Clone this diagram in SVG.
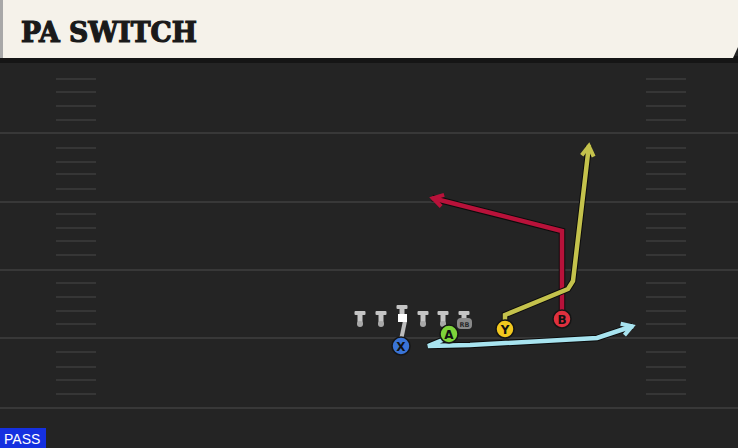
<svg xmlns="http://www.w3.org/2000/svg" width="738" height="448" viewBox="0 0 738 448">
<style>
.fl{stroke:#383838;stroke-width:2}
.hs{stroke:#363636;stroke-width:2}
.rt{fill:none;stroke-width:4.5;stroke-linejoin:miter;stroke-linecap:butt}
.ol{fill:none;stroke:#0c0c0c;stroke-width:6.5;stroke-linejoin:miter}
.pc{stroke:#151515;stroke-width:1.5}
.pl{font-family:"DejaVu Sans","Liberation Sans",sans-serif;font-weight:bold;font-size:12px;text-anchor:middle;fill:#111}
.ln{fill:#c4c4c4}
</style>
<defs>
<g id="tee">
<rect x="-5.5" y="0" width="11" height="4" rx="1" class="ln"/>
<rect x="-2.5" y="3" width="5" height="10" class="ln"/>
<circle cx="0" cy="13" r="3" fill="#a8a8a8"/>
</g>
<marker id="ar" markerUnits="userSpaceOnUse" markerWidth="20" markerHeight="20" refX="2" refY="0" viewBox="-14 -10 20 20" orient="auto" overflow="visible">
<path d="M-9,-6 L1,0 L-9,6" fill="none" stroke="#b8123a" stroke-width="4" stroke-linejoin="miter"/>
</marker>
<marker id="ay" markerUnits="userSpaceOnUse" markerWidth="20" markerHeight="20" refX="2" refY="0" viewBox="-14 -10 20 20" orient="auto" overflow="visible">
<path d="M-9,-6 L1,0 L-9,6" fill="none" stroke="#c4c24c" stroke-width="4" stroke-linejoin="miter"/>
</marker>
<marker id="ac" markerUnits="userSpaceOnUse" markerWidth="20" markerHeight="20" refX="2" refY="0" viewBox="-14 -10 20 20" orient="auto" overflow="visible">
<path d="M-9,-6 L1,0 L-9,6" fill="none" stroke="#a8e4f0" stroke-width="4" stroke-linejoin="miter"/>
</marker>
</defs>
<rect x="0" y="0" width="738" height="448" fill="#242424"/>
<g id="field">
<line class="fl" x1="0" y1="133" x2="738" y2="133"/>
<line class="fl" x1="0" y1="202" x2="738" y2="202"/>
<line class="fl" x1="0" y1="270" x2="738" y2="270"/>
<line class="fl" x1="0" y1="338" x2="738" y2="338"/>
<line class="fl" x1="0" y1="408" x2="738" y2="408"/>
<g id="hashL">
<line class="hs" x1="56" y1="79" x2="96" y2="79"/><line class="hs" x1="56" y1="92" x2="96" y2="92"/><line class="hs" x1="56" y1="106" x2="96" y2="106"/><line class="hs" x1="56" y1="120" x2="96" y2="120"/>
<line class="hs" x1="56" y1="148" x2="96" y2="148"/><line class="hs" x1="56" y1="162" x2="96" y2="162"/><line class="hs" x1="56" y1="174" x2="96" y2="174"/><line class="hs" x1="56" y1="189" x2="96" y2="189"/>
<line class="hs" x1="56" y1="214" x2="96" y2="214"/><line class="hs" x1="56" y1="228" x2="96" y2="228"/><line class="hs" x1="56" y1="241" x2="96" y2="241"/><line class="hs" x1="56" y1="255" x2="96" y2="255"/>
<line class="hs" x1="56" y1="283" x2="96" y2="283"/><line class="hs" x1="56" y1="297" x2="96" y2="297"/><line class="hs" x1="56" y1="311" x2="96" y2="311"/><line class="hs" x1="56" y1="324" x2="96" y2="324"/>
<line class="hs" x1="56" y1="352" x2="96" y2="352"/><line class="hs" x1="56" y1="367" x2="96" y2="367"/><line class="hs" x1="56" y1="380" x2="96" y2="380"/><line class="hs" x1="56" y1="394" x2="96" y2="394"/>
</g>
<use href="#hashL" x="590"/>
</g>
<g id="header">
<rect x="0" y="56" width="738" height="7" fill="#151515"/>
<path d="M0,0 H738 V47 L733,58 H0 Z" fill="#f5f2ea"/>
<rect x="0" y="0" width="3" height="58" fill="#a8a8a8"/>
<text x="21" y="42" font-family="'DejaVu Serif',serif" font-weight="bold" font-size="27" fill="#1a1a1a" stroke="#1a1a1a" stroke-width="1.2" textLength="176" lengthAdjust="spacingAndGlyphs">PA SWITCH</text>
</g>
<g id="connectors">
<polyline class="ol" points="562,319 562,231 432,198"/>
<polyline class="rt" stroke="#b8123a" points="562,319 562,231 432,198" marker-end="url(#ar)"/>
<polyline class="ol" points="505,329 505,315 568,289 573,281 589,145"/>
<polyline class="rt" stroke="#c4c24c" points="505,329 505,315 568,289 573,281 589,145" marker-end="url(#ay)"/>
<polyline class="ol" points="445,339 428,346 470,345 597,338 633,326"/>
<polyline class="rt" stroke="#a8e4f0" points="445,339 428,346 470,345 597,338 633,326" marker-end="url(#ac)"/>
<line x1="405" y1="321" x2="401" y2="340" stroke="#bdbdbd" stroke-width="4"/>
</g>
<g id="line">
<use href="#tee" x="360" y="311"/>
<use href="#tee" x="381" y="311"/>
<use href="#tee" x="402" y="305"/>
<use href="#tee" x="423" y="311"/>
<use href="#tee" x="443" y="311"/>
<use href="#tee" x="464" y="311"/>
<rect x="398" y="314" width="9" height="8" fill="#ffffff"/>
</g>
<g id="RB">
<rect x="457" y="318" width="15" height="11" rx="4" fill="#8a8a8a"/>
<text x="464.5" y="326.5" font-family="'DejaVu Sans',sans-serif" font-size="6.5" font-weight="bold" text-anchor="middle" fill="#2a2a2a">RB</text>
</g>
<g id="X"><circle cx="401" cy="346" r="9" fill="#3a74d6" class="pc"/><text class="pl" x="401" y="350.5">X</text></g>
<g id="A"><circle cx="449" cy="334" r="9" fill="#7ed43a" class="pc"/><text class="pl" x="449" y="338.5">A</text></g>
<g id="Y"><circle cx="505" cy="329" r="9" fill="#f2c81e" class="pc"/><text class="pl" x="505" y="333.5">Y</text></g>
<g id="B"><circle cx="562" cy="319" r="9" fill="#e0303e" class="pc"/><text class="pl" x="562" y="323.5">B</text></g>
<g id="pass">
<rect x="0" y="428" width="46" height="20" fill="#1530e0"/>
<text x="4" y="444" font-family="'Liberation Sans',sans-serif" font-size="14" fill="#ffffff">PASS</text>
</g>
</svg>
